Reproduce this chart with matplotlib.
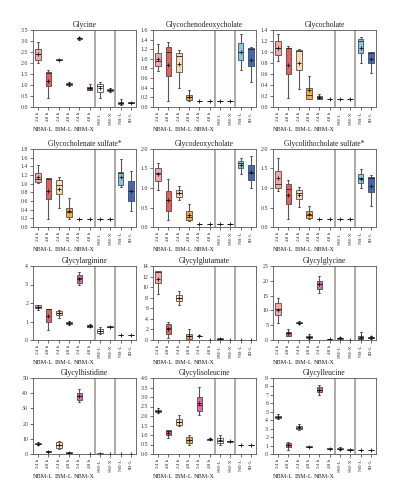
import matplotlib
matplotlib.use("Agg")
import matplotlib.pyplot as plt

plt.rcParams['font.family'] = ['Liberation Serif', 'DejaVu Serif']

categories = ["24 h", "48 h", "24 h", "48 h", "24 h", "48 h", "SM-L", "SM-X", "NB-L", "IB-L"]
group_labels = ["NBM-L", "IBM-L", "NBM-X"]
box_colors = ["#f5a8a6", "#ea5d5d", "#fcdbb0", "#f5aa52", "#dd68ad", "#9b2c88",
              "#ffffff", "#d6d6d6", "#80c9ec", "#4169b3"]

# each entry: (whislo, q1, median, q3, whishi, mean)
glycine = [(2.0, 2.15, 2.4, 2.65, 2.95, 2.4), (0.4, 0.95, 1.55, 1.6, 1.68, 1.2),
           (2.13, 2.14, 2.15, 2.16, 2.17, 2.15), (0.95, 1.0, 1.05, 1.1, 1.15, 1.05),
           (3.05, 3.09, 3.12, 3.15, 3.2, 3.12), (0.75, 0.78, 0.85, 0.92, 1.05, 0.85),
           (0.42, 0.7, 0.95, 1.05, 1.15, 0.85), (0.7, 0.73, 0.77, 0.8, 0.85, 0.77),
           (0.1, 0.12, 0.2, 0.25, 0.38, 0.2), (0.17, 0.19, 0.2, 0.21, 0.22, 0.2)]
glycochenodeoxycholate = [(0.75, 0.85, 0.95, 1.12, 1.3, 1.0), (0.12, 0.65, 1.15, 1.25, 1.35, 0.88),
                          (0.4, 0.73, 1.07, 1.13, 1.18, 0.9), (0.12, 0.14, 0.2, 0.25, 0.36, 0.2),
                          (0.12, 0.12, 0.12, 0.12, 0.12, 0.12), (0.12, 0.12, 0.12, 0.12, 0.12, 0.12),
                          (0.12, 0.12, 0.12, 0.12, 0.12, 0.12), (0.12, 0.12, 0.12, 0.12, 0.12, 0.12),
                          (0.77, 0.97, 1.15, 1.33, 1.52, 1.15), (0.52, 0.85, 1.21, 1.22, 1.25, 0.98)]
glycocholate = [(0.83, 0.95, 1.07, 1.2, 1.33, 1.07), (0.17, 0.6, 1.07, 1.08, 1.1, 0.77),
                (0.32, 0.67, 1.02, 1.04, 1.05, 0.8), (0.14, 0.15, 0.22, 0.35, 0.56, 0.3),
                (0.15, 0.15, 0.17, 0.2, 0.24, 0.18), (0.14, 0.14, 0.14, 0.14, 0.14, 0.14),
                (0.14, 0.14, 0.14, 0.14, 0.14, 0.14), (0.14, 0.14, 0.14, 0.14, 0.14, 0.14),
                (0.8, 0.98, 1.2, 1.23, 1.28, 1.08), (0.62, 0.8, 0.98, 1.0, 1.0, 0.87)]
glycocholenate_sulfate = [(1.02, 1.04, 1.1, 1.25, 1.43, 1.15), (0.18, 0.65, 1.1, 1.12, 1.13, 0.82),
                          (0.45, 0.75, 0.98, 1.08, 1.15, 0.88), (0.18, 0.22, 0.35, 0.45, 0.68, 0.37),
                          (0.18, 0.18, 0.18, 0.18, 0.18, 0.18), (0.18, 0.18, 0.18, 0.18, 0.18, 0.18),
                          (0.18, 0.18, 0.18, 0.18, 0.18, 0.18), (0.18, 0.18, 0.18, 0.18, 0.18, 0.18),
                          (0.92, 0.98, 1.25, 1.28, 1.57, 1.15), (0.38, 0.6, 0.83, 1.05, 1.3, 0.83)]
glycodeoxycholate = [(0.95, 1.18, 1.38, 1.5, 1.65, 1.35), (0.18, 0.42, 0.7, 0.92, 1.22, 0.7),
                     (0.7, 0.78, 0.88, 0.95, 1.05, 0.88), (0.15, 0.18, 0.25, 0.4, 0.58, 0.3),
                     (0.08, 0.08, 0.08, 0.08, 0.08, 0.08), (0.08, 0.08, 0.08, 0.08, 0.08, 0.08),
                     (0.08, 0.08, 0.08, 0.08, 0.08, 0.08), (0.08, 0.08, 0.08, 0.08, 0.08, 0.08),
                     (1.35, 1.5, 1.65, 1.7, 1.78, 1.58), (1.0, 1.2, 1.38, 1.6, 1.83, 1.4)]
glycolithocholate_sulfate = [(0.92, 1.0, 1.1, 1.43, 1.78, 1.25), (0.2, 0.6, 0.97, 1.1, 1.2, 0.82),
                             (0.52, 0.73, 0.88, 0.95, 1.03, 0.82), (0.2, 0.22, 0.3, 0.4, 0.55, 0.33),
                             (0.2, 0.2, 0.2, 0.2, 0.2, 0.2), (0.2, 0.2, 0.2, 0.2, 0.2, 0.2),
                             (0.2, 0.2, 0.2, 0.2, 0.2, 0.2), (0.2, 0.2, 0.2, 0.2, 0.2, 0.2),
                             (1.0, 1.12, 1.25, 1.35, 1.48, 1.22), (0.55, 0.9, 1.25, 1.28, 1.33, 1.05)]
glycylarginine = [(1.6, 1.72, 1.8, 1.87, 1.9, 1.8), (0.55, 1.0, 1.65, 1.66, 1.68, 1.3),
                  (1.2, 1.35, 1.45, 1.55, 1.6, 1.45), (0.8, 0.85, 0.92, 0.97, 1.02, 0.92),
                  (3.0, 3.1, 3.35, 3.5, 3.65, 3.3), (0.7, 0.7, 0.75, 0.8, 0.85, 0.75),
                  (0.3, 0.38, 0.5, 0.6, 0.68, 0.5), (0.7, 0.71, 0.72, 0.73, 0.74, 0.72),
                  (0.27, 0.27, 0.27, 0.27, 0.27, 0.27), (0.27, 0.27, 0.27, 0.27, 0.27, 0.27)]
glycylglutamate = [(8.7, 10.8, 12.8, 13.0, 13.0, 11.5), (0.3, 1.2, 2.3, 3.0, 3.5, 2.1),
                   (6.7, 7.3, 8.0, 8.5, 9.3, 7.9), (0.15, 0.25, 0.7, 1.2, 2.1, 0.8),
                   (0.7, 0.75, 0.8, 0.85, 0.9, 0.8), (0.05, 0.05, 0.05, 0.05, 0.05, 0.05),
                   (0.12, 0.15, 0.22, 0.3, 0.35, 0.22), (0.05, 0.05, 0.05, 0.05, 0.05, 0.05),
                   (0.02, 0.02, 0.02, 0.02, 0.02, 0.02), (0.02, 0.02, 0.02, 0.02, 0.02, 0.02)]
glycylglycine = [(5.8, 8.3, 10.5, 12.5, 14.3, 10.3), (1.3, 1.5, 2.2, 2.8, 3.6, 2.3),
                 (5.5, 5.7, 5.9, 6.1, 6.3, 5.9), (0.3, 0.6, 1.0, 1.4, 2.0, 1.0),
                 (16.0, 17.2, 18.8, 20.0, 21.5, 18.8), (0.1, 0.15, 0.2, 0.3, 0.4, 0.22),
                 (0.3, 0.4, 0.6, 0.8, 1.0, 0.6), (0.1, 0.1, 0.1, 0.1, 0.1, 0.1),
                 (0.2, 0.3, 0.6, 1.5, 2.7, 1.0), (0.5, 0.6, 0.8, 1.0, 1.5, 0.85)]
glycylhistidine = [(6.0, 6.3, 6.8, 7.0, 8.0, 6.8), (1.0, 1.2, 1.7, 2.0, 2.2, 1.6),
                   (3.0, 4.0, 6.0, 7.8, 8.5, 6.0), (0.3, 0.5, 0.8, 1.0, 1.2, 0.8),
                   (34.0, 35.5, 38.0, 40.0, 43.0, 38.0), (0.3, 0.3, 0.3, 0.3, 0.3, 0.3),
                   (0.2, 0.25, 0.3, 0.4, 0.5, 0.3), (0.3, 0.3, 0.3, 0.3, 0.3, 0.3),
                   (0.05, 0.05, 0.05, 0.05, 0.05, 0.05), (0.05, 0.05, 0.05, 0.05, 0.05, 0.05)]
glycylisoleucine = [(2.15, 2.2, 2.25, 2.3, 2.4, 2.25), (0.82, 1.0, 1.2, 1.25, 1.28, 1.12),
                    (1.45, 1.55, 1.7, 1.85, 2.05, 1.7), (0.5, 0.6, 0.75, 0.88, 1.02, 0.75),
                    (2.03, 2.25, 2.6, 3.0, 3.55, 2.7), (0.73, 0.75, 0.78, 0.8, 0.82, 0.78),
                    (0.48, 0.6, 0.7, 0.85, 1.0, 0.72), (0.62, 0.65, 0.66, 0.68, 0.7, 0.66),
                    (0.47, 0.47, 0.47, 0.47, 0.47, 0.47), (0.47, 0.47, 0.47, 0.47, 0.47, 0.47)]
glycylleucine = [(4.15, 4.3, 4.4, 4.5, 4.7, 4.4), (0.5, 0.8, 1.1, 1.3, 1.4, 1.05),
                 (2.8, 3.0, 3.1, 3.3, 3.6, 3.15), (0.78, 0.82, 0.88, 0.92, 1.0, 0.88),
                 (7.0, 7.3, 7.6, 7.9, 8.2, 7.6), (0.55, 0.6, 0.65, 0.7, 0.72, 0.65),
                 (0.5, 0.55, 0.65, 0.75, 0.82, 0.65), (0.5, 0.51, 0.53, 0.55, 0.56, 0.53),
                 (0.42, 0.42, 0.42, 0.42, 0.42, 0.42), (0.42, 0.42, 0.42, 0.42, 0.42, 0.42)]

titles = ["Glycine", "Glycochenodeoxycholate", "Glycocholate",
          "Glycocholenate sulfate*", "Glycodeoxycholate", "Glycolithocholate sulfate*",
          "Glycylarginine", "Glycylglutamate", "Glycylglycine",
          "Glycylhistidine", "Glycylisoleucine", "Glycylleucine"]
datasets = [glycine, glycochenodeoxycholate, glycocholate,
            glycocholenate_sulfate, glycodeoxycholate, glycolithocholate_sulfate,
            glycylarginine, glycylglutamate, glycylglycine,
            glycylhistidine, glycylisoleucine, glycylleucine]
y_max = [3.5, 1.6, 1.4, 1.8, 2.0, 2.0, 4, 14, 25, 50, 4.0, 9]
y_step = [0.5, 0.2, 0.2, 0.2, 0.5, 0.5, 1, 2, 5, 10, 0.5, 1]
y_fmt = ["%.1f", "%.1f", "%.1f", "%.1f", "%.1f", "%.1f", "%d", "%d", "%d", "%d", "%.1f", "%d"]

W, H = 399, 500
fig = plt.figure(figsize=(W / 100, H / 100), dpi=100)

col_x = [33, 153, 273]
ax_w = 103
row_top = [30, 149, 266, 378]
row_bot = [107, 227, 340, 454]

for i, (title, data) in enumerate(zip(titles, datasets)):
    r, c = divmod(i, 3)
    left = col_x[c] / W
    bottom = 1 - row_bot[r] / H
    height = (row_bot[r] - row_top[r]) / H
    ax = fig.add_axes([left, bottom, ax_w / W, height])

    stats = []
    for (lo, q1, med, q3, hi, mean) in data:
        stats.append(dict(whislo=lo, q1=q1, med=med, q3=q3, whishi=hi, mean=mean, fliers=[]))
    bp = ax.bxp(stats, positions=range(len(categories)), widths=0.55, patch_artist=True,
                showmeans=True, showfliers=False,
                boxprops=dict(linewidth=0.5, edgecolor="#333333"),
                medianprops=dict(color="#222222", linewidth=0.6),
                whiskerprops=dict(color="#555555", linewidth=0.8),
                capprops=dict(color="#555555", linewidth=0.6),
                meanprops=dict(marker="+", markersize=2.5, markeredgecolor="#111111",
                               markeredgewidth=0.6))
    for patch, col in zip(bp["boxes"], box_colors):
        patch.set_facecolor(col)
    for cap in bp["caps"]:
        xd = cap.get_xdata()
        mid = (xd[0] + xd[1]) / 2
        cap.set_xdata([mid - 0.1, mid + 0.1])

    for xs in (5.5, 7.5):
        ax.axvline(xs, color="#9a928c", linewidth=1.1, zorder=0)

    ax.set_xlim(-0.5, len(categories) - 0.5)
    ax.set_ylim(0, y_max[i])
    n = int(round(y_max[i] / y_step[i]))
    ticks = [k * y_step[i] for k in range(n + 1)]
    ax.set_yticks(ticks)
    ax.set_yticklabels([y_fmt[i] % t for t in ticks])
    ax.set_xticks(range(len(categories)))
    ax.set_xticklabels(categories, rotation=90)
    ax.tick_params(axis="both", labelsize=4.2, length=2, width=0.5, pad=1.5, colors="#333333")
    ax.tick_params(axis="x", labelsize=3.9)
    for sp in ax.spines.values():
        sp.set_linewidth(0.6)
        sp.set_color("#555555")
    ax.set_title(title, fontsize=5.5, pad=2.5, color="#222222")

    for g, name in enumerate(group_labels):
        ax.annotate(name, xy=(2 * g + 0.5, 0), xycoords=("data", "axes fraction"),
                    xytext=(0, -16.5), textcoords="offset points",
                    ha="center", va="center", fontsize=4.5, color="#222222")

fig.savefig("out.png", dpi=100)
